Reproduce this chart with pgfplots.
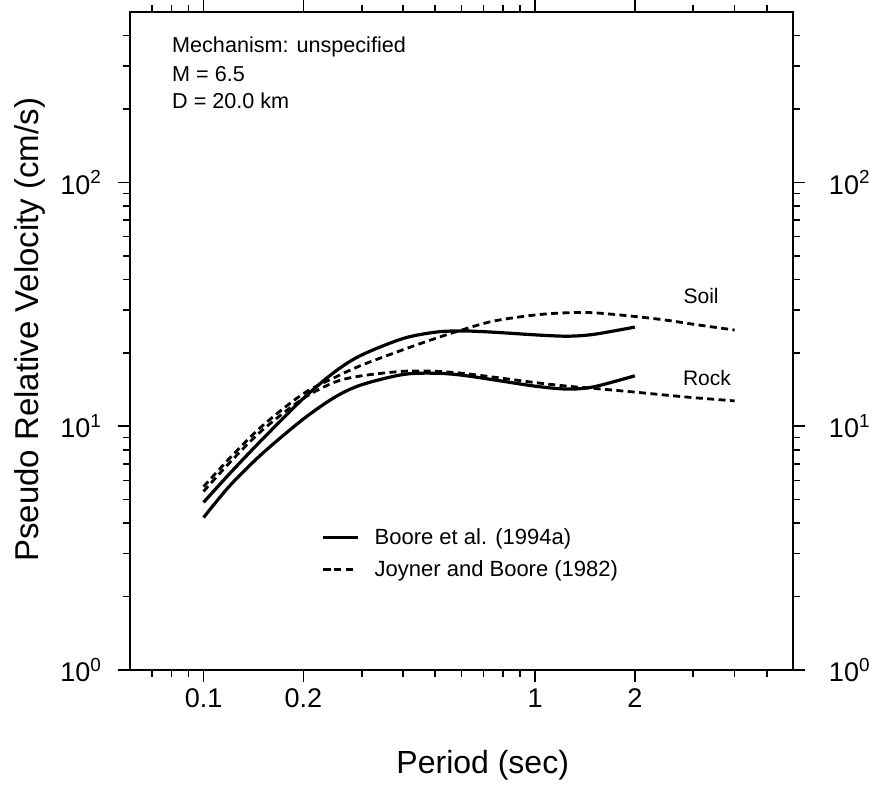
\documentclass[border=0pt]{standalone}
\usepackage{fontspec}
\setmainfont{Liberation Sans}
\usepackage{pgfplots}
\pgfplotsset{compat=1.18}

% curves (period in s, PSV in cm/s)
\pgfplotstableread{
x y
0.10 4.87
0.12 6.4
0.15 8.8
0.20 13.0
0.25 16.8
0.30 19.6
0.40 22.9
0.50 24.3
0.60 24.6
0.75 24.3
1.00 23.7
1.25 23.4
1.50 23.8
2.00 25.5
}\booresoil
\pgfplotstableread{
x y
0.10 4.22
0.12 5.7
0.15 7.7
0.20 10.7
0.25 13.2
0.30 14.8
0.40 16.3
0.50 16.5
0.60 16.2
0.75 15.5
1.00 14.6
1.25 14.2
1.50 14.5
2.00 16.1
}\boorerock
\pgfplotstableread{
x y
0.10 5.65
0.12 7.4
0.15 10.0
0.20 13.6
0.25 15.9
0.30 17.8
0.40 20.6
0.50 22.9
0.60 24.8
0.75 27.0
1.00 28.6
1.25 29.2
1.50 29.2
2.00 28.2
2.50 27.2
3.00 26.2
4.00 24.8
}\jbsoil
\pgfplotstableread{
x y
0.10 5.4
0.12 7.1
0.15 9.6
0.20 13.0
0.25 15.2
0.30 16.1
0.40 16.8
0.50 16.8
0.60 16.5
0.75 15.9
1.00 15.1
1.25 14.6
1.50 14.3
2.00 13.8
2.50 13.4
3.00 13.1
4.00 12.7
}\jbrock

\tikzset{
  jbline/.style={black, line width=1.4pt, dash pattern=on 3.5pt off 2.2pt},
  boline/.style={black, line width=1.6pt},
}

\begin{document}
\begin{tikzpicture}
\begin{axis}[
  width=331.5pt, height=329pt, scale only axis,
  xmode=log, ymode=log,
  xmin=0.06, xmax=6, ymin=1, ymax=500,
  tick align=outside, tick pos=both,
  major tick length=6pt, minor tick length=3.5pt,
  tick style={black, line width=0.8pt},
  axis line style={line width=1pt},
  ticklabel style={font=\fontsize{13.5}{15}\selectfont},
  ytick={1,10,100},
  yticklabels={10\textsuperscript{0},10\textsuperscript{1},10\textsuperscript{2}},
  xtick={0.1,0.2,1,2}, xticklabels={0.1,0.2,1,2},
  minor xtick={0.07,0.08,0.09,0.3,0.4,0.5,0.6,0.7,0.8,0.9,3,4,5},
  minor ytick={2,3,4,5,6,7,8,9,20,30,40,50,60,70,80,90,200,300,400},
  yticklabel style={xshift=-4.5pt},
  xlabel={Period (sec)}, ylabel={Pseudo Relative Velocity (cm/s)},
  xlabel style={font=\fontsize{16}{18}\selectfont,
    at={(axis description cs:0.532,-0.144)}, anchor=center},
  ylabel style={font=\fontsize{16.5}{18}\selectfont,
    at={(axis description cs:-0.151,0.517)}, anchor=center},
  legend style={draw=none, fill=none, inner sep=0pt, row sep=2.5pt,
    at={(axis description cs:0.288,0.222)}, anchor=north west,
    font=\fontsize{11}{13}\selectfont,
    /tikz/every odd column/.append style={column sep=6pt}},
  legend cell align=left,
]
\addplot[boline, smooth] table {\booresoil};
\addlegendentry{Boore et al. (1994a)}
\addplot[jbline, smooth] table {\jbsoil};
\addlegendentry{Joyner and Boore (1982)}
\addplot[boline, smooth, forget plot] table {\boorerock};
\addplot[jbline, smooth, forget plot] table {\jbrock};

\node[anchor=base west, font=\fontsize{10.8}{13}\selectfont] at (rel axis cs:0.053,0.939) {Mechanism: unspecified};
\node[anchor=base west, font=\fontsize{10.8}{13}\selectfont] at (rel axis cs:0.053,0.895) {M = 6.5};
\node[anchor=base west, font=\fontsize{10.8}{13}\selectfont] at (rel axis cs:0.053,0.853) {D = 20.0 km};
\node[font=\fontsize{10.5}{12}\selectfont] at (axis cs:3.17,34.1) {Soil};
\node[font=\fontsize{10.5}{12}\selectfont] at (axis cs:3.30,15.7) {Rock};
\end{axis}
\begin{axis}[
  width=331.5pt, height=329pt, scale only axis,
  xmode=log, ymode=log,
  xmin=0.06, xmax=6, ymin=1, ymax=500,
  tick align=outside,
  major tick length=6pt,
  ticklabel style={font=\fontsize{13.5}{15}\selectfont},
  ytick={1,10,100},
  yticklabels={10\textsuperscript{0},10\textsuperscript{1},10\textsuperscript{2}},
  xtick=\empty, minor xtick={}, minor ytick={},
  yticklabel pos=right, yticklabel style={xshift=8.5pt},
  axis line style={draw=none}, tick style={draw=none},
]
\addplot[draw=none] coordinates {(1,1)};
\end{axis}
\pgfresetboundingbox
\path[use as bounding box] ([shift={(-65pt,-57pt)}]current axis.south west) rectangle ([shift={(39.5pt,6pt)}]current axis.north east);
\end{tikzpicture}
\end{document}
